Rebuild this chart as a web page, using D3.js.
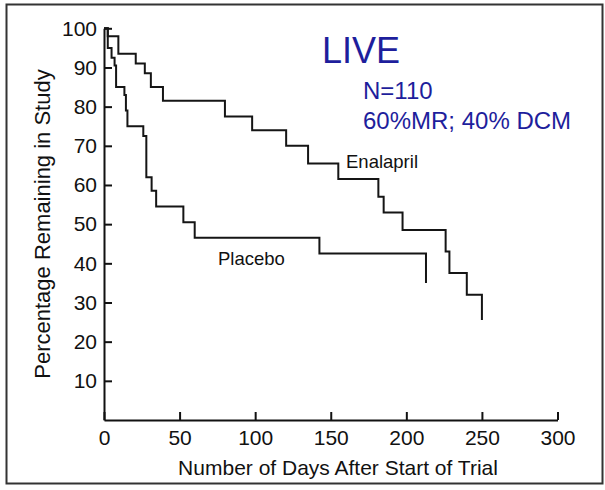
<!DOCTYPE html>
<html>
<head>
<meta charset="utf-8">
<script src="https://cdnjs.cloudflare.com/ajax/libs/d3/7.8.5/d3.min.js"></script>
<style>
  body { margin: 0; background: #fff; }
  svg text { font-family: "Liberation Sans", Arial, Helvetica, sans-serif; }
</style>
</head>
<body>
<div id="chart"></div>
<script>
// Kaplan-Meier style steps: value holds from day[i] until day[i+1]
const enalaprilDays   = [0, 2.5, 9.5, 21, 27, 31, 39, 80, 98, 120.5, 135, 155, 181.5, 185, 197.5, 226, 228.5, 240, 250];
const enalaprilValues = [100, 98, 93.5, 91, 88.5, 85, 81.5, 77.5, 74, 70, 65.5, 61.5, 57, 53, 48.5, 43, 37.5, 32, 25.5];

const placeboDays   = [0, 2.5, 5, 7, 8, 13.5, 14.5, 15.5, 26, 28, 31.5, 34.5, 52.5, 60, 142.5, 213];
const placeboValues = [100, 95, 92.5, 90.5, 85, 83, 79, 75, 72.5, 62, 58.5, 54.5, 50.5, 46.5, 42.5, 35];

const xTicks = [0, 50, 100, 150, 200, 250, 300];
const yTicks = [10, 20, 30, 40, 50, 60, 70, 80, 90, 100];

const xTitle = "Number of Days After Start of Trial";
const yTitle = "Percentage Remaining in Study";
const noteLines = ["LIVE", "N=110", "60%MR; 40% DCM"];

const W = 605, H = 490;
const svg = d3.select("#chart").append("svg")
    .attr("width", W)
    .attr("height", H);

// outer frame of the scanned figure
svg.append("rect")
    .attr("x", 6.5).attr("y", 4.5)
    .attr("width", 596).attr("height", 479)
    .attr("fill", "none")
    .attr("stroke", "#333")
    .attr("stroke-width", 2);

const x = d3.scaleLinear().domain([0, 300]).range([104, 557.5]);
const y = d3.scaleLinear().domain([0, 100]).range([420, 28.3]);

// axes, ticks pointing inward
const gx = svg.append("g")
    .attr("transform", `translate(0,${y(0)})`)
    .call(d3.axisBottom(x).tickValues(xTicks).tickSizeInner(-8).tickSizeOuter(0).tickPadding(10));

const gy = svg.append("g")
    .attr("transform", `translate(${x(0)},0)`)
    .call(d3.axisLeft(y).tickValues(yTicks).tickSizeInner(-8).tickSizeOuter(0).tickPadding(7));

[gx, gy].forEach(g => {
    g.select(".domain").attr("stroke", "#111").attr("stroke-width", 2);
    g.selectAll(".tick line").attr("stroke", "#111").attr("stroke-width", 2);
    g.selectAll(".tick text")
        .style("font-size", "21px")
        .style("font-family", "'Liberation Sans', Arial, sans-serif")
        .attr("fill", "#111");
});

// survival curves
const line = d3.line()
    .x(d => x(d[0]))
    .y(d => y(d[1]))
    .curve(d3.curveStepAfter);

const series = [
    d3.zip(enalaprilDays, enalaprilValues),
    d3.zip(placeboDays, placeboValues)
];

svg.selectAll(".curve")
    .data(series)
    .enter().append("path")
    .attr("class", "curve")
    .attr("d", line)
    .attr("fill", "none")
    .attr("stroke", "#151515")
    .attr("stroke-width", 2);

// curve labels
svg.append("text")
    .attr("x", 346).attr("y", 168)
    .style("font-size", "18.5px")
    .attr("fill", "#111")
    .text("Enalapril");

svg.append("text")
    .attr("x", 218).attr("y", 265)
    .style("font-size", "18.5px")
    .attr("fill", "#111")
    .text("Placebo");

// axis titles
svg.append("text")
    .attr("x", 338).attr("y", 475)
    .attr("text-anchor", "middle")
    .style("font-size", "21px")
    .attr("fill", "#111")
    .text(xTitle);

svg.append("text")
    .attr("transform", `translate(50,224) rotate(-90)`)
    .attr("text-anchor", "middle")
    .style("font-size", "22px")
    .attr("fill", "#111")
    .text(yTitle);

// study note in blue
const blue = "#1e1e9c";
svg.append("text")
    .attr("x", 322).attr("y", 63)
    .style("font-size", "36px")
    .attr("fill", blue)
    .text(noteLines[0]);

svg.selectAll(".note")
    .data(noteLines.slice(1))
    .enter().append("text")
    .attr("class", "note")
    .attr("x", 363)
    .attr("y", (d, i) => 99 + i * 30)
    .style("font-size", "24px")
    .attr("fill", blue)
    .text(d => d);
</script>
</body>
</html>
